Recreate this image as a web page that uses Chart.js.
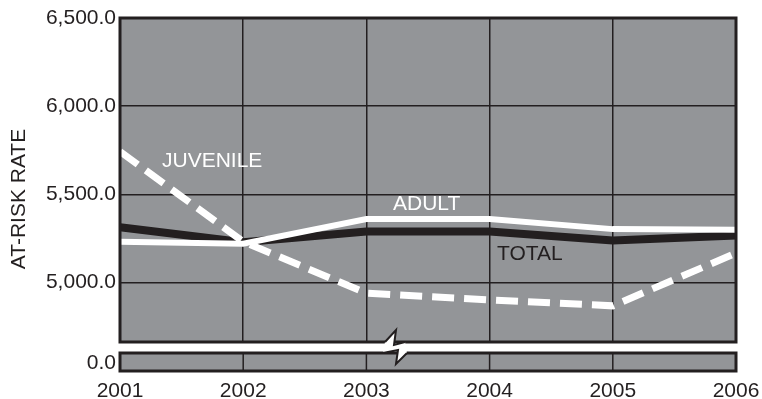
<!DOCTYPE html>
<html>
<head>
<meta charset="utf-8">
<script src="https://cdn.jsdelivr.net/npm/chart.js@4.4.0/dist/chart.umd.min.js"></script>
<style>
  html, body { margin: 0; padding: 0; background: #fff; }
  #wrap { width: 762px; height: 399px; }
</style>
</head>
<body>
<div id="wrap"><canvas id="rateChart"></canvas></div>
<script>
// chart data
const years = ['2001', '2002', '2003', '2004', '2005', '2006'];
const juvenileRate = [5743, 5232, 4940, 4902, 4868, 5167];
const adultRate = [5232, 5220, 5360, 5360, 5303, 5299];
const totalRate = [5314, 5229, 5289, 5289, 5238, 5267];
const yTicks = [5000, 5500, 6000, 6500];

const plotGray = '#939598';
const ink = '#231f20';
const font = { family: '"Liberation Sans", Arial, sans-serif', size: 21 };

// Gray plot area, borders, the 0.0 strip, the axis break and text labels
const framePlugin = {
    id: 'frame',
    beforeDraw(chart) {
        const a = chart.chartArea;
        const ctx = chart.ctx;
        ctx.save();
        ctx.fillStyle = plotGray;
        ctx.fillRect(a.left, a.top, a.right - a.left, a.bottom - a.top);
        ctx.restore();
    },
    afterDraw(chart) {
        const a = chart.chartArea;
        const ctx = chart.ctx;
        const x = chart.scales.x;
        const stripTop = a.bottom + 11;
        const stripBottom = a.bottom + 29;
        ctx.save();
        // lower strip (zero level)
        ctx.fillStyle = plotGray;
        ctx.fillRect(a.left, stripTop, a.right - a.left, stripBottom - stripTop);
        ctx.strokeStyle = ink;
        ctx.lineWidth = 1.5;
        for (let i = 1; i < years.length - 1; i++) {
            const px = x.getPixelForValue(i);
            ctx.beginPath();
            ctx.moveTo(px, stripTop);
            ctx.lineTo(px, stripBottom);
            ctx.stroke();
        }
        ctx.lineWidth = 3;
        ctx.strokeRect(a.left, stripTop, a.right - a.left, stripBottom - stripTop);
        // main box border
        ctx.strokeRect(a.left, a.top, a.right - a.left, a.bottom - a.top);

        // 0.0 label
        ctx.fillStyle = ink;
        ctx.font = font.size + 'px ' + font.family;
        ctx.textAlign = 'right';
        ctx.textBaseline = 'middle';
        ctx.fillText('0.0', a.left - 4, (stripTop + stripBottom) / 2 + 1);

        // axis break zigzag
        const bx = (x.getPixelForValue(2) + x.getPixelForValue(3)) / 2 - 35;
        const top = a.bottom;
        const bot = stripTop;
        ctx.beginPath();
        ctx.moveTo(bx - 8, top);
        ctx.lineTo(bx + 3, top - 12);
        ctx.lineTo(bx + 1, top + 3);
        ctx.lineTo(bx + 12, top);
        ctx.lineTo(bx + 14, bot);
        ctx.lineTo(bx + 3, bot + 11);
        ctx.lineTo(bx + 5, bot - 3);
        ctx.lineTo(bx - 10, bot);
        ctx.closePath();
        ctx.fillStyle = '#fff';
        ctx.fill();
        ctx.lineWidth = 2;
        ctx.strokeStyle = ink;
        ctx.beginPath();
        ctx.moveTo(bx - 8, top);
        ctx.lineTo(bx + 3, top - 12);
        ctx.lineTo(bx + 1, top + 3);
        ctx.lineTo(bx + 12, top);
        ctx.stroke();
        ctx.beginPath();
        ctx.moveTo(bx - 10, bot);
        ctx.lineTo(bx + 5, bot - 3);
        ctx.lineTo(bx + 3, bot + 11);
        ctx.lineTo(bx + 14, bot);
        ctx.stroke();
        ctx.restore();

        // series labels and axis title
        ctx.save();
        ctx.font = font.size + 'px ' + font.family;
        ctx.textAlign = 'left';
        ctx.textBaseline = 'middle';
        ctx.fillStyle = '#fff';
        ctx.fillText('JUVENILE', 162, 161);
        ctx.fillText('ADULT', 393, 204);
        ctx.fillStyle = ink;
        ctx.fillText('TOTAL', 497, 254);
        ctx.translate(19, 199);
        ctx.rotate(-Math.PI / 2);
        ctx.textAlign = 'center';
        ctx.fillText('AT-RISK RATE', 0, 0);
        ctx.restore();
    }
};

const ctx = document.getElementById('rateChart').getContext('2d');
new Chart(ctx, {
    type: 'line',
    data: {
        labels: years,
        datasets: [
            {
                label: 'JUVENILE',
                data: juvenileRate,
                borderColor: '#ffffff',
                borderWidth: 7,
                borderDash: [22, 10],
                pointRadius: 0,
                tension: 0,
                borderCapStyle: 'butt'
            },
            {
                label: 'ADULT',
                data: adultRate,
                borderColor: '#ffffff',
                borderWidth: 6,
                pointRadius: 0,
                tension: 0
            },
            {
                label: 'TOTAL',
                data: totalRate,
                borderColor: ink,
                borderWidth: 8,
                pointRadius: 0,
                tension: 0
            }
        ]
    },
    options: {
        responsive: true,
        maintainAspectRatio: false,
        animation: false,
        layout: { padding: { top: 18, right: 26, left: 0, bottom: 0 } },
        plugins: {
            legend: { display: false },
            tooltip: { enabled: false }
        },
        scales: {
            x: {
                offset: false,
                grid: { color: ink, lineWidth: 1.5, drawTicks: false },
                border: { display: false },
                ticks: { color: ink, font: font, padding: 37, maxRotation: 0 },
                afterFit: s => { s.height = 57; s.paddingLeft = 0; s.paddingRight = 0; }
            },
            y: {
                min: 4663,
                max: 6500,
                afterBuildTicks: s => { s.ticks = yTicks.map(v => ({ value: v })); },
                grid: { color: ink, lineWidth: 1.5, drawTicks: false },
                border: { display: false },
                ticks: {
                    color: ink,
                    font: font,
                    padding: 4,
                    callback: v => v.toLocaleString('en-US', { minimumFractionDigits: 1, maximumFractionDigits: 1 })
                },
                afterFit: s => { s.width = 120; s.paddingTop = 0; s.paddingBottom = 0; }
            }
        }
    },
    plugins: [framePlugin]
});
</script>
</body>
</html>
